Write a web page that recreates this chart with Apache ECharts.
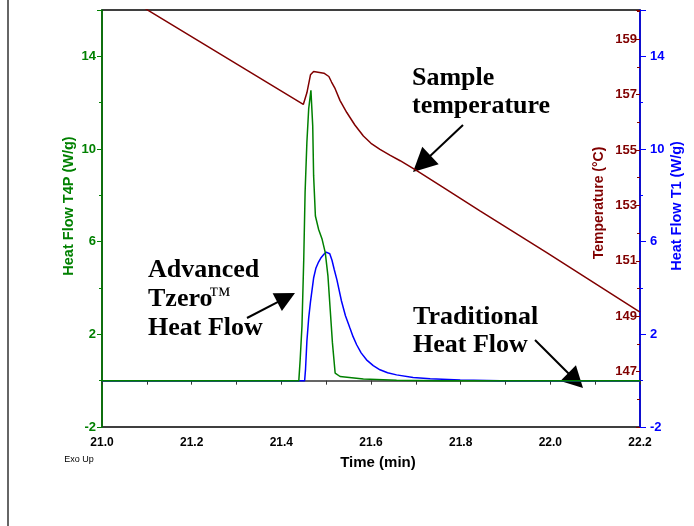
<!DOCTYPE html>
<html>
<head>
<meta charset="utf-8">
<script src="https://cdn.jsdelivr.net/npm/echarts@6/dist/echarts.min.js"></script>
<style>
html,body{margin:0;padding:0;background:#fff;}
#chart{width:694px;height:526px;}
</style>
</head>
<body>
<div id="chart"></div>
<script>
// ---- Data ----
const timeTicks = [21.0, 21.2, 21.4, 21.6, 21.8, 22.0, 22.2];

// Sample temperature (°C) vs time (min)
const tempTime  = [21.0, 21.103, 21.449, 21.457, 21.465, 21.472, 21.495, 21.506, 21.512, 21.520, 21.531, 21.546, 21.564, 21.583, 21.600, 21.620, 21.642, 21.665, 21.702, 21.760, 21.843, 21.992, 22.2];
const tempValue = [161.06, 160.04, 156.64, 157.06, 157.71, 157.83, 157.77, 157.65, 157.45, 157.21, 156.78, 156.35, 155.90, 155.50, 155.24, 155.02, 154.81, 154.61, 154.25, 153.66, 152.80, 151.29, 149.15];

// Advanced Tzero heat flow T4P (W/g)
const t4pTime  = [21.0, 21.439, 21.442, 21.446, 21.450, 21.453, 21.457, 21.461, 21.466, 21.470, 21.472, 21.476, 21.483, 21.491, 21.498, 21.504, 21.509, 21.514, 21.520, 21.531, 21.583, 21.657, 21.754, 22.2];
const t4pValue = [0, 0, 0.9, 2.35, 5.24, 8.13, 10.29, 11.73, 12.53, 11.01, 8.85, 7.11, 6.54, 6.10, 5.53, 4.51, 3.07, 1.63, 0.33, 0.18, 0.07, 0.02, 0, 0];

// Traditional heat flow T1 (W/g)
const t1Time  = [21.0, 21.452, 21.454, 21.457, 21.461, 21.465, 21.472, 21.477, 21.483, 21.489, 21.495, 21.500, 21.504, 21.508, 21.513, 21.518, 21.524, 21.534, 21.543, 21.553, 21.560, 21.568, 21.578, 21.590, 21.605, 21.620, 21.637, 21.657, 21.694, 21.732, 21.799, 21.888, 22.2];
const t1Value = [0, 0, 0.5, 1.7, 2.7, 3.4, 4.43, 4.85, 5.12, 5.32, 5.46, 5.55, 5.58, 5.48, 5.2, 4.8, 4.35, 3.45, 2.8, 2.27, 1.9, 1.55, 1.2, 0.9, 0.65, 0.47, 0.34, 0.25, 0.14, 0.08, 0.03, 0, 0];

// ---- Styles ----
const SANS = 'Arial, "Liberation Sans", sans-serif';
const SERIF = '"Times New Roman", "Liberation Serif", serif';
const GREEN = '#008000', BLUE = '#0000ff', DRED = '#800000';

function zip(a, b) { return a.map((v, i) => [v, b[i]]); }

function arrow(x1, y1, x2, y2, len, wid) {
  const dx = x2 - x1, dy = y2 - y1, L = Math.hypot(dx, dy), ux = dx / L, uy = dy / L;
  const bx = x2 - ux * len, by = y2 - uy * len;
  const px = -uy * wid / 2, py = ux * wid / 2;
  return [
    {type: 'line', shape: {x1: x1, y1: y1, x2: bx + ux * 2, y2: by + uy * 2}, style: {stroke: '#000', lineWidth: 2}},
    {type: 'polygon', shape: {points: [[x2, y2], [bx + px, by + py], [bx - px, by - py]]}, style: {fill: '#000'}}
  ];
}
function note(text, x, y, size, weight) {
  return {type: 'text', x: x, y: y, style: {text: text, font: (weight || 'bold') + ' ' + size + 'px ' + SERIF, fill: '#000', textAlign: 'left', textVerticalAlign: 'middle'}};
}
function vtitle(text, x, y, color, size) {
  return {type: 'text', x: x, y: y, rotation: Math.PI / 2, style: {text: text, font: 'bold ' + size + 'px ' + SANS, fill: color, textAlign: 'center', textVerticalAlign: 'middle'}};
}

const graphics = [
  {type: 'line', shape: {x1: 8, y1: 0, x2: 8, y2: 526}, style: {stroke: '#333', lineWidth: 1.5}},
  vtitle('Heat Flow T4P (W/g)', 69, 206, GREEN, 14.5),
  vtitle('Temperature (°C)', 599, 203, DRED, 14),
  vtitle('Heat Flow T1 (W/g)', 677, 206, BLUE, 14.5),
  {type: 'text', x: 378, y: 463, style: {text: 'Time (min)', font: 'bold 15px ' + SANS, fill: '#000', textAlign: 'center', textVerticalAlign: 'middle'}},
  {type: 'text', x: 79, y: 460, style: {text: 'Exo Up', font: '9px ' + SANS, fill: '#000', textAlign: 'center', textVerticalAlign: 'middle'}},
  note('Sample', 412, 78, 26),
  note('temperature', 412, 106, 26),
  note('Advanced', 148, 270, 26),
  note('Tzero', 148, 299, 26),
  note('™', 209, 296, 22, 'normal'),
  note('Heat Flow', 148, 328, 26),
  note('Traditional', 413, 317, 26),
  note('Heat Flow', 413, 345, 26)
].concat(arrow(463, 125, 413, 172, 24, 24))
 .concat(arrow(247, 318, 295, 293, 20, 20))
 .concat(arrow(535, 340, 583, 388, 21, 22));

const chart = echarts.init(document.getElementById('chart'), null, {renderer: 'canvas'});
chart.setOption({
  animation: false,
  backgroundColor: '#fff',
  grid: {left: 102, right: 54, top: 10, bottom: 99, show: true, borderColor: '#000', borderWidth: 1.5, backgroundColor: 'transparent'},
  xAxis: {
    type: 'value', min: timeTicks[0], max: timeTicks[timeTicks.length - 1], interval: 0.2,
    axisLine: {lineStyle: {color: '#333', width: 1.5}},
    axisTick: {length: 4, lineStyle: {color: '#333'}},
    minorTick: {show: true, splitNumber: 2, length: 4, lineStyle: {color: '#333'}},
    splitLine: {show: false},
    axisLabel: {color: '#000', fontWeight: 'bold', fontSize: 12, fontFamily: SANS, margin: 10, formatter: v => v.toFixed(1)}
  },
  yAxis: [
    {
      type: 'value', position: 'left', min: -2, max: 16, interval: 4,
      axisLine: {show: true, lineStyle: {color: GREEN, width: 1.5}},
      axisTick: {show: true, length: 5, lineStyle: {color: GREEN}},
      minorTick: {show: true, splitNumber: 2, length: 3, lineStyle: {color: GREEN}},
      splitLine: {show: false},
      axisLabel: {color: GREEN, fontWeight: 'bold', fontSize: 13, fontFamily: SANS, margin: 6, showMaxLabel: false}
    },
    {
      type: 'value', position: 'right', min: -2, max: 16, interval: 4,
      axisLine: {show: true, lineStyle: {color: BLUE, width: 1.5}},
      axisTick: {show: true, length: 6, lineStyle: {color: BLUE}},
      minorTick: {show: true, splitNumber: 2, length: 3, lineStyle: {color: BLUE}},
      splitLine: {show: false},
      axisLabel: {color: BLUE, fontWeight: 'bold', fontSize: 13, fontFamily: SANS, margin: 10, showMaxLabel: false}
    },
    {
      type: 'value', position: 'right', min: 145, max: 160.05, interval: 2,
      axisLine: {show: false},
      axisTick: {show: true, inside: true, length: 4, lineStyle: {color: DRED}},
      minorTick: {show: true, splitNumber: 2, length: 3, lineStyle: {color: DRED}},
      splitLine: {show: false},
      axisLabel: {inside: true, color: DRED, fontWeight: 'bold', fontSize: 13, fontFamily: SANS, margin: 3, showMinLabel: false, showMaxLabel: false}
    }
  ],
  series: [
    {type: 'line', name: 'Heat Flow T1', yAxisIndex: 1, data: zip(t1Time, t1Value), showSymbol: false, symbol: 'none', lineStyle: {color: BLUE, width: 1.5}, itemStyle: {color: BLUE}, z: 3},
    {type: 'line', name: 'Heat Flow T4P', yAxisIndex: 0, data: zip(t4pTime, t4pValue), showSymbol: false, symbol: 'none', lineStyle: {color: GREEN, width: 1.5}, itemStyle: {color: GREEN}, z: 4},
    {type: 'line', name: 'Temperature', yAxisIndex: 2, data: zip(tempTime, tempValue), showSymbol: false, symbol: 'none', lineStyle: {color: DRED, width: 1.5}, itemStyle: {color: DRED}, z: 5}
  ],
  graphic: graphics
});
</script>
</body>
</html>
